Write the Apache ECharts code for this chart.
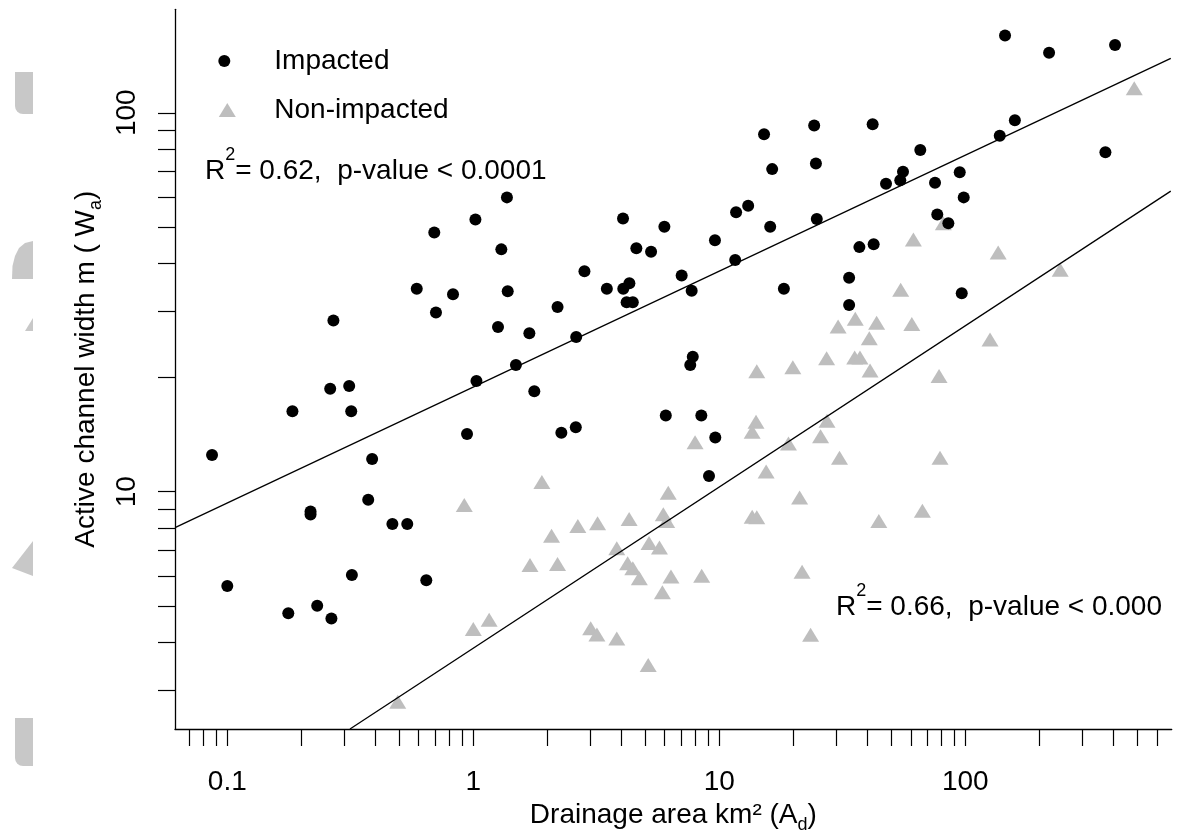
<!DOCTYPE html>
<html>
<head>
<meta charset="utf-8">
<title>Active channel width vs drainage area</title>
<script src="https://cdn.jsdelivr.net/npm/echarts@6/dist/echarts.min.js"></script>
<style>
  html, body { margin: 0; padding: 0; background: #fff; }
  #chart { width: 1179px; height: 833px; }
</style>
</head>
<body>
<div id="chart"></div>
<script>
// drainage area (km2), active channel width (m)
const impacted = [
  [1.37, 59.8], [1.02, 52.3], [0.694, 48.3], [1.30, 43.6], [15.2, 87.7], [24.3, 92.6],
  [16.4, 71.0], [24.7, 73.5], [13.1, 56.8], [11.7, 54.6], [4.06, 52.6], [5.98, 50.0],
  [4.60, 43.9], [5.28, 43.0], [9.60, 46.1], [16.1, 50.0], [24.9, 52.4], [11.6, 40.9],
  [2.83, 38.2], [4.31, 35.5], [7.03, 37.2], [145, 160], [219, 144], [406, 151],
  [42.0, 93.2], [159, 95.5], [138, 87.0], [371, 78.7], [65.6, 79.7], [55.8, 69.9],
  [54.4, 66.4], [47.6, 65.0], [75.3, 65.4], [94.9, 69.7], [98.5, 59.8], [76.9, 53.9],
  [85.3, 51.1], [37.1, 44.2], [42.4, 45.0], [33.7, 36.7], [0.589, 34.3], [0.827, 33.2],
  [1.38, 33.8], [0.705, 29.7], [0.270, 28.3], [1.26, 27.2], [0.262, 18.7], [0.313, 19.0],
  [0.184, 16.3], [0.319, 16.3], [1.03, 19.6], [0.943, 14.2], [0.0867, 12.5], [0.388, 12.2],
  [0.374, 9.53], [0.218, 8.87], [0.218, 8.71], [0.469, 8.22], [0.539, 8.22], [3.49, 34.3],
  [4.07, 34.3], [4.20, 31.6], [4.45, 31.6], [7.72, 33.9], [18.3, 34.3], [2.20, 30.7],
  [1.69, 26.2], [2.62, 25.6], [1.49, 21.6], [1.77, 18.4], [7.80, 22.7], [7.62, 21.6],
  [6.06, 15.9], [8.45, 15.9], [2.28, 14.3], [2.61, 14.8], [9.63, 13.9], [9.08, 11.0],
  [33.7, 31.1], [96.7, 33.4], [0.100, 5.64], [0.177, 4.78], [0.232, 5.00], [0.265, 4.63],
  [0.321, 6.03], [0.644, 5.84]
];

const nonImpacted = [
  [486, 116], [61.5, 46.3], [81.4, 51.1], [136, 42.8], [243, 38.5], [0.919, 9.22],
  [30.4, 27.3], [27.3, 22.5], [19.9, 21.3], [14.2, 20.8], [14.1, 15.3], [13.6, 14.4],
  [7.97, 13.5], [19.1, 13.4], [25.8, 14.0], [27.4, 15.4], [30.8, 12.3], [15.5, 11.3],
  [1.90, 10.6], [6.20, 9.94], [21.2, 9.66], [5.92, 8.72], [6.11, 8.37], [13.6, 8.59],
  [14.2, 8.56], [4.30, 8.47], [3.20, 8.26], [2.66, 8.12], [2.08, 7.65], [3.83, 7.09],
  [5.18, 7.32], [5.71, 7.12], [54.6, 34.1], [35.7, 28.6], [43.6, 27.9], [60.6, 27.7],
  [40.7, 25.4], [126, 25.2], [35.5, 22.6], [37.3, 22.6], [41.0, 20.9], [78.2, 20.2],
  [78.9, 12.3], [66.9, 8.91], [44.5, 8.37], [1.00, 4.34], [1.16, 4.59], [0.493, 2.79],
  [1.70, 6.41], [2.20, 6.45], [4.24, 6.47], [4.45, 6.28], [4.73, 5.91], [6.36, 5.97],
  [8.48, 6.00], [5.87, 5.43], [21.7, 6.15], [3.00, 4.36], [3.18, 4.20], [3.83, 4.10],
  [5.14, 3.49], [23.5, 4.19]
];

// fitted lines, ends read at the plot edges
const impactedFit = [[0.0613, 8.04], [684, 139.2]];
const nonImpactedFit = [[0.3153, 2.365], [684, 62.1]];

const xLabels = [0.1, 1, 10, 100];
const yLabels = [10, 100];
const xTicks = [0.07, 0.08, 0.09, 0.1, 0.2, 0.3, 0.4, 0.5, 0.6, 0.7, 0.8, 0.9,
  1, 2, 3, 4, 5, 6, 7, 8, 9, 10, 20, 30, 40, 50, 60, 70, 80, 90, 100, 200, 300, 400, 500, 600];
const yTicks = [3, 4, 5, 6, 7, 8, 9, 10, 20, 30, 40, 50, 60, 70, 80, 90, 100];

const font = '"Liberation Sans", Arial, Helvetica, sans-serif';
const grey = '#bebebe';
const mark = '#c8c8c8';

const subRich = {
  t: { fontSize: 28, lineHeight: 28, verticalAlign: 'top', color: '#000', fontFamily: font },
  s: { fontSize: 18, lineHeight: 33, verticalAlign: 'bottom', color: '#000', fontFamily: font }
};
const supRich = {
  a: { fontSize: 28, lineHeight: 39.5, verticalAlign: 'bottom', fill: '#000', fontFamily: font },
  s: { fontSize: 18, verticalAlign: 'top', fill: '#000', fontFamily: font }
};

const axisCommon = {
  type: 'log',
  logBase: 10,
  nameLocation: 'middle',
  nameTextStyle: { rich: subRich },
  axisLine: { show: true, lineStyle: { color: '#000', width: 1.3 } },
  splitLine: { show: false },
  minorTick: { show: false }
};

const chart = echarts.init(document.getElementById('chart'));
chart.setOption({
  animation: false,
  backgroundColor: '#fff',
  textStyle: { fontFamily: font },
  grid: { left: 175, right: 7.3, top: 9.3, bottom: 104, outerBoundsMode: 'none' },
  xAxis: Object.assign({}, axisCommon, {
    min: 0.0613,
    max: 690,
    name: '{t|Drainage area km² (A}{s|d}{t|)}',
    nameGap: 68,
    axisTick: { show: true, inside: false, length: 17, customValues: xTicks, lineStyle: { color: '#000', width: 1.2 } },
    axisLabel: { customValues: xLabels, margin: 39, fontSize: 28, color: '#000', fontFamily: font,
      formatter: v => String(+(+v).toPrecision(3)) }
  }),
  yAxis: Object.assign({}, axisCommon, {
    min: 2.365,
    max: 187.5,
    name: '{t|Active channel width m ( W}{s|a}{t|)}',
    nameGap: 41,
    axisTick: { show: true, inside: false, length: 17, customValues: yTicks, lineStyle: { color: '#000', width: 1.2 } },
    axisLabel: { customValues: yLabels, rotate: 90, margin: 34, fontSize: 28, color: '#000', fontFamily: font,
      formatter: v => String(+(+v).toPrecision(3)) }
  }),
  legend: [
    { data: [{ name: 'Impacted', icon: 'circle' }], orient: 'vertical', left: 218.3, top: 47, padding: 0,
      itemWidth: 12, itemHeight: 12, selectedMode: false,
      formatter: '{t|{name}}', textStyle: { rich: { t: { fontSize: 28, color: '#000', padding: [0, 0, 0, 39], fontFamily: font } } } },
    { data: [{ name: 'Non-impacted', icon: 'triangle' }], orient: 'vertical', left: 218.8, top: 96, padding: 0,
      itemWidth: 17, itemHeight: 14, selectedMode: false,
      formatter: '{t|{name}}', textStyle: { rich: { t: { fontSize: 28, color: '#000', padding: [0, 0, 0, 33.5], fontFamily: font } } } }
  ],
  graphic: [
    { type: 'text', x: 205, y: 145.8, style: { text: '{a|R}{s|2}{a|= 0.62,  p-value < 0.0001}', rich: supRich, verticalAlign: 'top' } },
    { type: 'text', x: 836, y: 581.8, style: { text: '{a|R}{s|2}{a|= 0.66,  p-value < 0.000}', rich: supRich, verticalAlign: 'top' } },
    // faint marks along the left edge of the page
    { type: 'rect', shape: { x: 15, y: 72, width: 18, height: 42, r: [0, 0, 0, 8] }, style: { fill: mark } },
    { type: 'polygon', shape: { points: [[33, 279], [12, 279], [12.5, 266], [15, 256], [19, 248], [25, 243], [33, 241]] }, style: { fill: mark } },
    { type: 'polygon', shape: { points: [[25, 331], [33, 318], [33, 331]] }, style: { fill: mark } },
    { type: 'polygon', shape: { points: [[12, 568], [33, 541], [33, 576]] }, style: { fill: mark } },
    { type: 'rect', shape: { x: 15, y: 718, width: 18, height: 48, r: [0, 0, 0, 8] }, style: { fill: mark } }
  ],
  series: [
    { name: 'Non-impacted', type: 'scatter', data: nonImpacted, symbol: 'triangle', symbolSize: [17, 14],
      itemStyle: { color: grey, opacity: 1 }, z: 2, silent: true },
    { name: 'Impacted', type: 'scatter', data: impacted, symbol: 'circle', symbolSize: 12,
      itemStyle: { color: '#000', opacity: 1 }, z: 3, silent: true },
    { name: 'Impacted fit', type: 'line', data: impactedFit, symbol: 'none', clip: true,
      lineStyle: { color: '#000', width: 1.3 }, z: 4, silent: true },
    { name: 'Non-impacted fit', type: 'line', data: nonImpactedFit, symbol: 'none', clip: true,
      lineStyle: { color: '#000', width: 1.3 }, z: 4, silent: true }
  ]
});
</script>
</body>
</html>
